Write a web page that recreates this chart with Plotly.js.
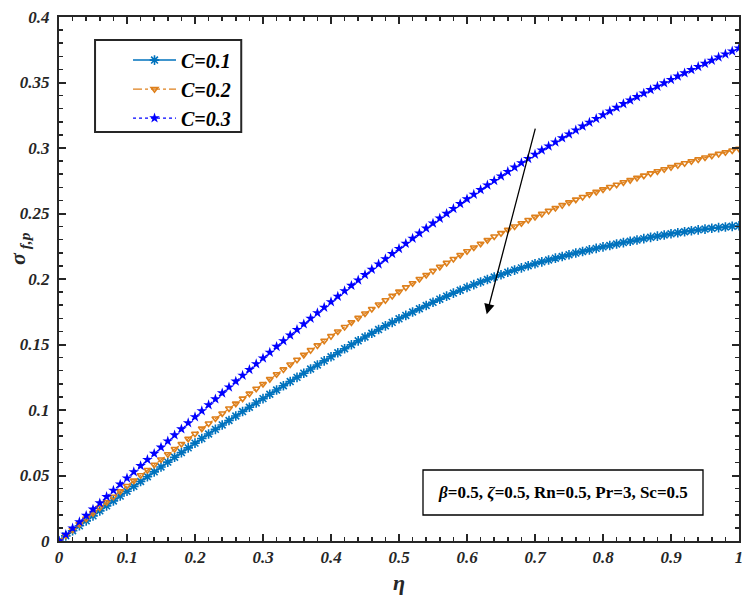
<!DOCTYPE html>
<html>
<head>
<meta charset="utf-8">
<script src="https://cdn.plot.ly/plotly-3.0.1.min.js"></script>
<style>html,body{margin:0;padding:0;background:#fff;}#chart{width:742px;height:599px;}</style>
</head>
<body>
<div id="chart"></div>
<script>
// eta grid (x values)
const eta = [0.00,0.01,0.02,0.03,0.04,0.05,0.06,0.07,0.08,0.09,
  0.10,0.11,0.12,0.13,0.14,0.15,0.16,0.17,0.18,0.19,
  0.20,0.21,0.22,0.23,0.24,0.25,0.26,0.27,0.28,0.29,
  0.30,0.31,0.32,0.33,0.34,0.35,0.36,0.37,0.38,0.39,
  0.40,0.41,0.42,0.43,0.44,0.45,0.46,0.47,0.48,0.49,
  0.50,0.51,0.52,0.53,0.54,0.55,0.56,0.57,0.58,0.59,
  0.60,0.61,0.62,0.63,0.64,0.65,0.66,0.67,0.68,0.69,
  0.70,0.71,0.72,0.73,0.74,0.75,0.76,0.77,0.78,0.79,
  0.80,0.81,0.82,0.83,0.84,0.85,0.86,0.87,0.88,0.89,
  0.90,0.91,0.92,0.93,0.94,0.95,0.96,0.97,0.98,0.99,1.00];

// C = 0.1
const sigmaC01 = [0,.0039,.0078,.0116,.0154,.0192,.0230,.0268,.0306,.0343,
  .0380,.0417,.0454,.0491,.0528,.0565,.0602,.0639,.0675,.0711,
  .0747,.0782,.0817,.0852,.0886,.0920,.0954,.0988,.1021,.1054,
  .1087,.1120,.1153,.1185,.1217,.1249,.1281,.1313,.1344,.1375,
  .1406,.1437,.1468,.1498,.1528,.1557,.1586,.1614,.1642,.1669,
  .1696,.1722,.1748,.1773,.1798,.1822,.1846,.1869,.1892,.1914,
  .1936,.1957,.1977,.1996,.2015,.2033,.2051,.2068,.2085,.2101,
  .2116,.2131,.2145,.2159,.2172,.2185,.2198,.2210,.2222,.2234,
  .2245,.2256,.2267,.2278,.2288,.2298,.2308,.2318,.2327,.2336,
  .2345,.2353,.2361,.2368,.2375,.2381,.2387,.2392,.2397,.2402,.2406];

// C = 0.2
const sigmaC02 = [0,.0043,.0086,.0129,.0171,.0213,.0255,.0297,.0338,.0379,
  .0420,.0461,.0502,.0542,.0582,.0622,.0662,.0702,.0741,.0780,
  .0819,.0858,.0897,.0935,.0973,.1011,.1049,.1087,.1125,.1162,
  .1199,.1236,.1273,.1310,.1347,.1384,.1421,.1457,.1493,.1529,
  .1564,.1599,.1634,.1669,.1703,.1737,.1771,.1805,.1838,.1871,
  .1904,.1936,.1968,.2000,.2031,.2062,.2093,.2123,.2153,.2183,
  .2212,.2241,.2269,.2297,.2324,.2350,.2376,.2401,.2426,.2450,
  .2474,.2497,.2520,.2542,.2564,.2585,.2606,.2626,.2646,.2665,
  .2684,.2702,.2720,.2738,.2755,.2772,.2789,.2806,.2822,.2838,
  .2854,.2869,.2884,.2899,.2913,.2927,.2941,.2955,.2968,.2981,.2994];

// C = 0.3
const sigmaC03 = [0,.0049,.0098,.0146,.0194,.0242,.0290,.0338,.0386,.0433,
  .0480,.0527,.0574,.0621,.0668,.0715,.0762,.0809,.0855,.0901,
  .0947,.0993,.1039,.1084,.1129,.1174,.1219,.1264,.1308,.1352,
  .1396,.1440,.1484,.1527,.1570,.1613,.1656,.1699,.1741,.1783,
  .1825,.1867,.1909,.1950,.1991,.2032,.2073,.2113,.2153,.2193,
  .2232,.2271,.2310,.2349,.2387,.2425,.2463,.2500,.2537,.2574,
  .2610,.2646,.2681,.2716,.2751,.2785,.2819,.2853,.2886,.2919,
  .2951,.2983,.3014,.3045,.3076,.3106,.3136,.3166,.3195,.3224,
  .3253,.3281,.3309,.3337,.3364,.3391,.3418,.3444,.3470,.3496,
  .3522,.3547,.3572,.3597,.3621,.3645,.3669,.3693,.3716,.3739,.3762];

const seriesNames = ['C=0.1','C=0.2','C=0.3'];
const xTickVals = [0,0.1,0.2,0.3,0.4,0.5,0.6,0.7,0.8,0.9,1];
const xTickText = ['0','0.1','0.2','0.3','0.4','0.5','0.6','0.7','0.8','0.9','1'];
const yTickVals = [0,0.05,0.1,0.15,0.2,0.25,0.3,0.35,0.4];
const yTickText = ['0','0.05','0.1','0.15','0.2','0.25','0.3','0.35','0.4'];
const paramText = '<i>β</i>=0.5, <i>ζ</i>=0.5, Rn=0.5, Pr=3, Sc=0.5';
const yTitleText = 'σ<sub> f,p</sub>';
const xTitleText = 'η';

const serif = "'Liberation Serif', 'Times New Roman', Times, serif";

const traces = [
  {x: eta, y: sigmaC01, name: seriesNames[0], legendgroup: 'a', mode: 'lines+markers',
   line: {color: '#0072BD', width: 1.5, dash: 'solid'},
   marker: {symbol: 'asterisk-open', size: 8, color: '#0072BD', line: {color: '#0072BD', width: 1.6}}},
  {x: eta, y: sigmaC02, name: seriesNames[1], legendgroup: 'b', mode: 'lines+markers',
   line: {color: 'rgb(222,128,28)', width: 1.2, dash: 'dashdot'},
   marker: {symbol: 'triangle-down-open', size: 6, color: 'rgb(222,128,28)', line: {color: 'rgb(222,128,28)', width: 1.6}}},
  {x: eta, y: sigmaC03, name: seriesNames[2], legendgroup: 'c', mode: 'lines+markers',
   line: {color: '#0000FF', width: 1.2, dash: 'dot'},
   marker: {symbol: 'star', size: 8, color: '#0000FF', line: {color: '#0000FF', width: 0}}}
];

const axisCommon = {
  showgrid: false, zeroline: false, showline: true, linecolor: '#262626', linewidth: 2,
  mirror: 'ticks', ticks: 'inside', ticklen: 7, tickwidth: 2, tickcolor: '#262626',
  ticklabeloverflow: 'allow',
  tickfont: {family: serif, size: 17, color: '#262626', weight: 'bold', style: 'italic'}
};

const layout = {
  width: 742, height: 599,
  margin: {l: 59, r: 3, t: 17, b: 58},
  paper_bgcolor: '#fff', plot_bgcolor: '#fff',
  showlegend: true,
  xaxis: Object.assign({}, axisCommon, {
    range: [0, 1], tickmode: 'array', tickvals: xTickVals, ticktext: xTickText,
    minor: {dtick: 0.02, ticks: 'inside', ticklen: 4, tickwidth: 1.5, tickcolor: '#262626'},
    title: {text: xTitleText, font: {family: serif, size: 22, color: '#262626', weight: 'bold', style: 'italic'}, standoff: 8}
  }),
  yaxis: Object.assign({}, axisCommon, {
    range: [0, 0.4], tickmode: 'array', tickvals: yTickVals, ticktext: yTickText,
    ticklabelstandoff: 4,
    minor: {dtick: 0.01, ticks: 'inside', ticklen: 4, tickwidth: 1.5, tickcolor: '#262626'}
  }),
  legend: {
    x: 0.1015, y: 0.955, xanchor: 'left', yanchor: 'top',
    bgcolor: 'rgba(0,0,0,0)', borderwidth: 0, itemwidth: 43,
    traceorder: 'grouped', tracegroupgap: 0,
    font: {family: serif, size: 20, color: '#000', weight: 'bold', style: 'italic'}
  },
  shapes: [
    {type: 'rect', xref: 'paper', yref: 'paper', x0: 0.053, x1: 0.268, y0: 0.7805, y1: 0.956,
     line: {color: '#262626', width: 2}, fillcolor: 'rgba(0,0,0,0)'},
    {type: 'rect', xref: 'paper', yref: 'paper', x0: (423-59)/680, x1: (703-59)/680,
     y0: (541-515)/524, y1: (541-470)/524, line: {color: '#000', width: 1.3}, fillcolor: 'rgba(0,0,0,0)'}
  ],
  annotations: [
    {xref: 'paper', yref: 'paper', x: (563-59)/680, y: (541-492)/524, text: paramText,
     showarrow: false, xanchor: 'center', yanchor: 'middle',
     font: {family: serif, size: 17, color: '#000', weight: 'bold'}},
    {xref: 'paper', yref: 'paper', x: (19-59)/680, y: (541-249)/524, text: yTitleText,
     showarrow: false, textangle: -90, xanchor: 'center', yanchor: 'middle',
     font: {family: serif, size: 22, color: '#262626', weight: 'bold', style: 'italic'}},
    {x: 0.629, y: 0.173, ax: 0.701, ay: 0.316, xref: 'x', yref: 'y', axref: 'x', ayref: 'y',
     text: '', showarrow: true, arrowhead: 2, arrowsize: 1.6, arrowwidth: 1.3, arrowcolor: '#000'}
  ]
};

Plotly.newPlot('chart', traces, layout, {displayModeBar: false, staticPlot: true});
</script>
</body>
</html>
